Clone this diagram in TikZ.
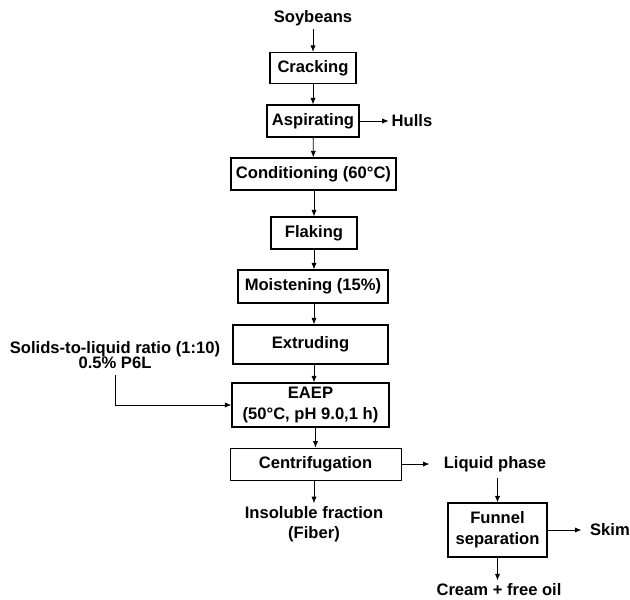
\documentclass[tikz,border=0pt]{standalone}
\usepackage{fontspec}
\setmainfont{Liberation Sans}
\usepackage{tikz}
\usetikzlibrary{
	positioning,						% Relative positioning
	arrows.meta,						% Advanced arrows
	calc								% Calculate point coordinates
}

\begin{document}
\begin{tikzpicture}[x=0.025cm, y=-0.025cm, font=\fontsize{11.8}{13.8}\selectfont\bfseries]
		\tikzstyle{box} = [draw, line width=0.9pt, inner sep=0pt, align=center]
		\tikzstyle{label} = [inner sep=2pt, align=center]
		\tikzstyle{flow} = [-{Latex[length=1.6mm, width=1.3mm]}, line width=0.6pt]
		
		\useasboundingbox (0,0) rectangle (630,599);
		
		% Main line
		%% Boxes
		\node[label] at (313, 18) (soyText) {Soybeans};
		\node[box, minimum width=86*0.025cm, minimum height=31*0.025cm] at (313, 68) (crackBox) {Cracking};
		\node[box, minimum width=92*0.025cm, minimum height=32*0.025cm] at (313, 121) (aspirBox) {Aspirating};
		\node[box, minimum width=165*0.025cm, minimum height=32*0.025cm] at (313.5, 174) (condBox) {Conditioning (60°C)};
		\node[box, minimum width=86*0.025cm, minimum height=32*0.025cm] at (314, 233) (flakeBox) {Flaking};
		\node[box, minimum width=150*0.025cm, minimum height=33*0.025cm] at (313, 286.5) (moistBox) {Moistening (15\%)};
		\node[box, minimum width=155*0.025cm, minimum height=39*0.025cm] at (310.5, 344.5) (extrBox) {Extruding};
		\node[box, minimum width=157*0.025cm, minimum height=44*0.025cm] at (310.5, 405) (eaepBox) {EAEP\\[1pt](50°C, pH 9.0,1 h)};
		\node[box, minimum width=171*0.025cm, minimum height=32*0.025cm, line width=0.6pt] at (315.5, 464) (centrBox) {Centrifugation};
		%% Arrows
		\draw[flow] (soyText) to (crackBox);
		\draw[flow] (crackBox) to (aspirBox);
		\draw[flow] (aspirBox) to (condBox);
		\draw[flow] (condBox.south -| flakeBox.north) to (flakeBox.north);
		\draw[flow] (flakeBox.south) to (flakeBox.south |- moistBox.north);
		\draw[flow] (moistBox.south -| flakeBox.south) to (flakeBox.south |- extrBox.north);
		\draw[flow] (extrBox.south -| flakeBox.south) to (flakeBox.south |- eaepBox.north);
		\draw[flow] (eaepBox.south -| centrBox.north) to (centrBox.north);
		
		% Side streams
		\node[label] at (412, 121) (hullsText) {Hulls};
		\draw[flow] (aspirBox) to (hullsText);
		\node[label, inner sep=4pt] at (115, 355) (solidsText) {Solids-to-liquid ratio (1:10)\\[-3pt]0.5\% P6L};
		\draw[flow] (solidsText.south) |- (eaepBox.west);
		\node[label] at (314, 524) (insolText) {Insoluble fraction\\[0.5pt](Fiber)};
		\draw[flow] (centrBox.south -| insolText.north) to (insolText.north);
		
		% Liquid phase
		\node[label, inner sep=4pt] at (495, 464) (liquidText) {Liquid phase};
		\draw[flow, shorten >=6pt] (centrBox) to (liquidText);
		\node[box, minimum width=99*0.025cm, minimum height=54*0.025cm] at (497.5, 530) (funnelBox) {Funnel\\[1pt]separation};
		\draw[flow] (liquidText.south -| funnelBox.north) to (funnelBox.north);
		\node[label] at (610, 530) (skimText) {Skim};
		\draw[flow, shorten >=4pt] (funnelBox) to (skimText);
		\node[label] at (499, 589.5) (creamText) {Cream + free oil};
		\draw[flow] (funnelBox.south) to (funnelBox.south |- creamText.north);
	\end{tikzpicture}
\end{document}
